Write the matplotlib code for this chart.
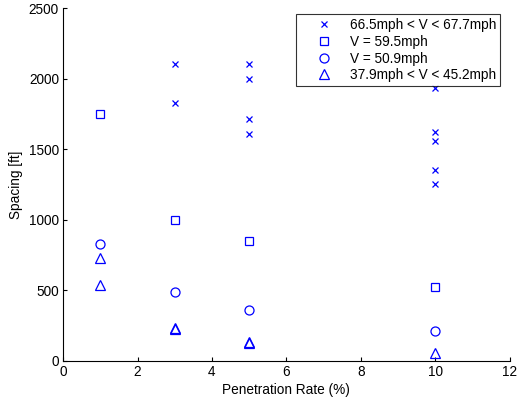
import matplotlib
matplotlib.use("Agg")
import matplotlib.pyplot as plt

plt.rcParams['font.family'] = ['Liberation Sans', 'DejaVu Sans']

# Data
x_high = [3, 3, 5, 5, 5, 5, 10, 10, 10, 10, 10]
y_high = [2100, 1825, 2100, 2000, 1710, 1605, 1930, 1620, 1560, 1350, 1250]

x_595 = [1, 3, 5, 10]
y_595 = [1750, 1000, 850, 520]

x_509 = [1, 3, 5, 10]
y_509 = [825, 490, 360, 210]

x_low = [1, 1, 3, 3, 5, 5, 10]
y_low = [725, 535, 224, 232, 125, 133, 53]

labels = ['66.5mph < V < 67.7mph', 'V = 59.5mph', 'V = 50.9mph', '37.9mph < V < 45.2mph']
xlabel = 'Penetration Rate (%)'
ylabel = 'Spacing [ft]'
xticks = [0, 2, 4, 6, 8, 10, 12]
yticks = [0, 500, 1000, 1500, 2000, 2500]

fs = 9.8

fig = plt.figure(figsize=(5.17, 4.03), dpi=100)
ax = fig.add_axes([0.122, 0.105, 0.864, 0.875])

blue = (0, 0, 1)
kw = dict(linestyle='none', color=blue, markerfacecolor='none', markeredgecolor=blue, markeredgewidth=0.9)
ax.plot(x_high, y_high, marker='x', markersize=5, label=labels[0], **kw)
ax.plot(x_595, y_595, marker='s', markersize=5.5, label=labels[1], **kw)
ax.plot(x_509, y_509, marker='o', markersize=6.5, label=labels[2], **kw)
ax.plot(x_low, y_low, marker='^', markersize=6.8, label=labels[3], **kw)

ax.set_xlim(0, 12)
ax.set_ylim(0, 2500)
ax.set_xticks(xticks)
ax.set_yticks(yticks)
ax.spines['top'].set_visible(False)
ax.spines['right'].set_visible(False)
for s in ['left', 'bottom']:
    ax.spines[s].set_linewidth(0.8)
    ax.spines[s].set_color('black')
ax.tick_params(direction='in', length=3, width=0.8, labelsize=fs, colors='black', pad=3)
ax.set_xlabel(xlabel, fontsize=fs, labelpad=3)
ax.set_ylabel(ylabel, fontsize=fs, labelpad=4)

leg = ax.legend(loc='upper right', bbox_to_anchor=(500 / 517, 1 - 14 / 403),
                bbox_transform=fig.transFigure, fontsize=fs, frameon=True,
                fancybox=False, edgecolor='black', handlelength=3.6,
                handletextpad=0.05, borderpad=0.3, labelspacing=0.2,
                borderaxespad=0)
leg.get_frame().set_linewidth(0.8)

fig.savefig('out.png', dpi=100)
